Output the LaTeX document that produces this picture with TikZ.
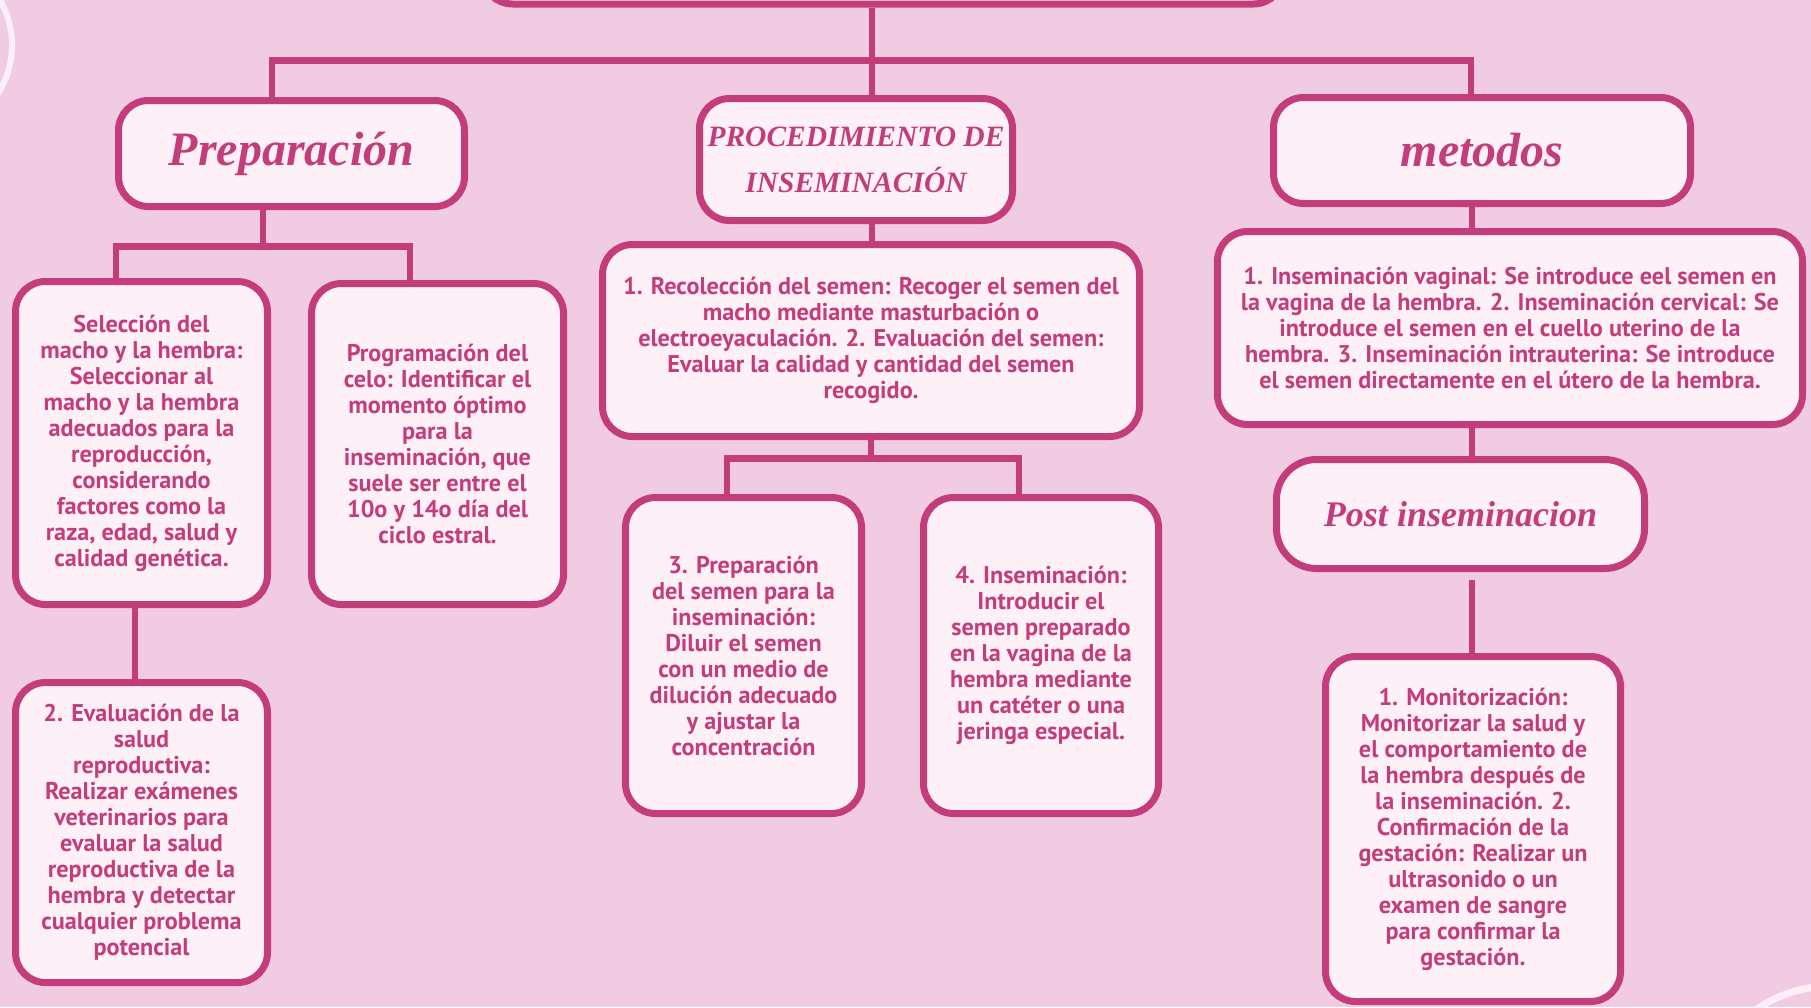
\documentclass[tikz,border=0pt]{standalone}
\usepackage{fontspec}
\newfontfamily\bodyfont{PT Sans Bold}
\newfontfamily\titlefont{Liberation Serif}
\definecolor{bgpink}{HTML}{F1CBE1}
\definecolor{edgepink}{HTML}{C43D7B}
\definecolor{fillpink}{HTML}{FDF1F7}
\definecolor{decowhite}{HTML}{FDEFF7}
\begin{document}
\begin{tikzpicture}[x=1pt,y=-1pt,
  box/.style={draw=edgepink, fill=fillpink, line width=7pt, rounded corners=30pt,
    rectangle, align=center, text=edgepink, inner sep=0pt},
  bodytxt/.style={box, font=\bodyfont\fontsize{24.2}{26}\selectfont},
  titletxt/.style={box, font=\titlefont\bfseries\itshape\fontsize{48}{52}\selectfont},
  conn/.style={draw=edgepink, line width=6pt},
  bar/.style={draw=edgepink, line width=7pt}]
\useasboundingbox (0,0) rectangle (1811,1007);
\fill[bgpink] (0,0) rectangle (1811,1007);
\begin{scope}
\clip (0,0) rectangle (1811,1007);
\draw[decowhite, line width=6pt] (-78,45) circle[radius=90pt];
\draw[decowhite, line width=7pt] (1832,1120) circle[radius=134pt];
% top box (mostly off page)
\node[box, minimum width=801pt, minimum height=120pt] (top) at (883,-56) {};
\end{scope}

% level 1
\node[titletxt, minimum width=346pt, minimum height=106pt] (prep) at (291.5,153.5) {Preparación};
\node[titletxt, font=\titlefont\bfseries\itshape\fontsize{29.5}{46}\selectfont, minimum width=313pt, minimum height=122pt] (proc) at (856,159.5) {PROCEDIMIENTO DE\\INSEMINACIÓN};
\node[titletxt, minimum width=417pt, minimum height=106pt] (met) at (1482,150.5) {metodos};

% preparación children
\node[bodytxt, minimum width=252pt, minimum height=323pt] (sel) at (141.5,443) {Selección del\\macho y la hembra:\\Seleccionar al\\macho y la hembra\\adecuados para la\\reproducción,\\considerando\\factores como la\\raza, edad, salud y\\calidad genética.};
\node[bodytxt, minimum width=252pt, minimum height=321pt] (prog) at (437.5,444) {Programación del\\celo: Identificar el\\momento óptimo\\para la\\inseminación, que\\suele ser entre el\\10o y 14o día del\\ciclo estral.};
\node[bodytxt, minimum width=252pt, minimum height=300pt] (eval) at (141.5,832.5) {2. Evaluación de la\\salud\\reproductiva:\\Realizar exámenes\\veterinarios para\\evaluar la salud\\reproductiva de la\\hembra y detectar\\cualquier problema\\potencial};

% procedimiento children
\node[bodytxt, minimum width=537pt, minimum height=192pt] (rec) at (871,340.5) {1. Recolección del semen: Recoger el semen del\\macho mediante masturbación o\\electroeyaculación. 2. Evaluación del semen:\\Evaluar la calidad y cantidad del semen\\recogido.};
\node[bodytxt, minimum width=236pt, minimum height=316pt] (p3) at (743.5,655.5) {3. Preparación\\del semen para la\\inseminación:\\Diluir el semen\\con un medio de\\dilución adecuado\\y ajustar la\\concentración};
\node[bodytxt, minimum width=235pt, minimum height=316pt] (p4) at (1041,655.5) {4. Inseminación:\\Introducir el\\semen preparado\\en la vagina de la\\hembra mediante\\un catéter o una\\jeringa especial.};

% metodos children
\node[bodytxt, minimum width=585pt, minimum height=193pt] (metx) at (1510,328) {1. Inseminación vaginal: Se introduce eel semen en\\la vagina de la hembra. 2. Inseminación cervical: Se\\introduce el semen en el cuello uterino de la\\hembra. 3. Inseminación intrauterina: Se introduce\\el semen directamente en el útero de la hembra.};
\node[titletxt, font=\titlefont\bfseries\itshape\fontsize{36}{40}\selectfont, rounded corners=40pt, minimum width=368pt, minimum height=109pt] (post) at (1460.5,514) {Post inseminacion};
\node[bodytxt, minimum width=295pt, minimum height=345pt] (mon) at (1473,829) {1. Monitorización:\\Monitorizar la salud y\\el comportamiento de\\la hembra después de\\la inseminación. 2.\\Confirmación de la\\gestación: Realizar un\\ultrasonido o un\\examen de sangre\\para confirmar la\\gestación.};

% connectors
\coordinate (hub) at (872,60);
\coordinate (bl) at (272,60);
\coordinate (br) at (1471,60);
\draw[conn] (top.south -| hub) -- (hub);
\draw[bar] ([xshift=-3pt]bl) -- ([xshift=3pt]br);
\draw[conn] (bl) -- (prep.north -| bl);
\draw[conn] (hub) -- (proc.north -| hub);
\draw[conn] (br) -- (met.north -| br);

\coordinate (ph) at (263,246);
\coordinate (pl) at (116,246);
\coordinate (pr) at (410,246);
\draw[conn] (prep.south -| ph) -- (ph);
\draw[bar] ([xshift=-3pt]pl) -- ([xshift=3pt]pr);
\draw[conn] (pl) -- (sel.north -| pl);
\draw[conn] (pr) -- (prog.north -| pr);
\draw[conn] (sel.south -| 135,0) -- (eval.north -| 135,0);

\draw[conn] (proc.south -| hub) -- (rec.north -| hub);
\coordinate (rh) at (871,458);
\coordinate (rl) at (727,458);
\coordinate (rr) at (1019,458);
\draw[conn] (rec.south -| rh) -- (rh);
\draw[bar] ([xshift=-3pt]rl) -- ([xshift=3pt]rr);
\draw[conn] (rl) -- (p3.north -| rl);
\draw[conn] (rr) -- (p4.north -| rr);

\coordinate (mx) at (1472,0);
\draw[conn] (met.south -| mx) -- (metx.north -| mx);
\draw[conn] (metx.south -| mx) -- (post.north -| mx);
\draw[conn, shorten <=8pt] (post.south -| mx) -- (mon.north -| mx);
\end{tikzpicture}
\end{document}
